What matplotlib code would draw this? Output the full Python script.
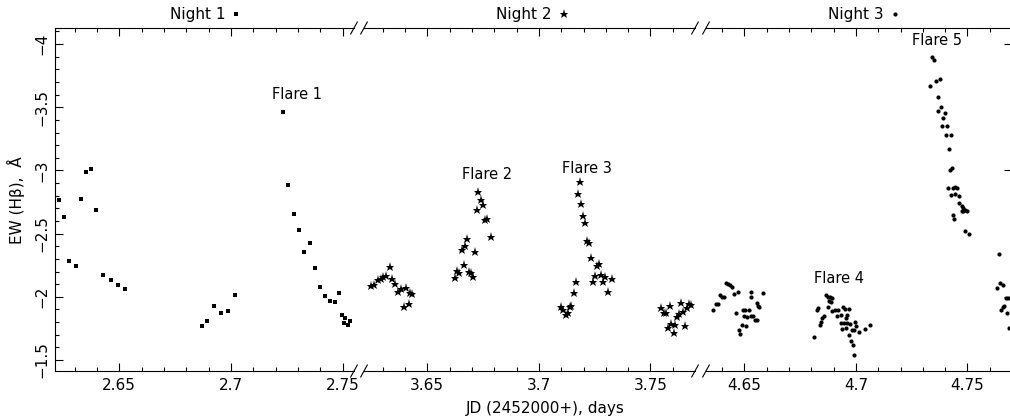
import matplotlib
matplotlib.use("Agg")
import matplotlib.pyplot as plt
from matplotlib.lines import Line2D
from matplotlib.ticker import MultipleLocator, FuncFormatter, NullLocator, NullFormatter

plt.rcParams['font.family'] = ['DejaVu Sans']

# ---------------- data (JD - 2452000, EW(Hbeta) in Angstrom) ----------------
night1_jd = [2.6230, 2.6253, 2.6275, 2.6306, 2.6329, 2.6351, 2.6373, 2.6396, 2.6427, 2.6463, 2.6494, 2.6525,
             2.6870, 2.6895, 2.6924, 2.6955, 2.6986, 2.7017,
             2.7232, 2.7258, 2.7281, 2.7304, 2.7326, 2.7353, 2.7375, 2.7398, 2.7420, 2.7442, 2.7465, 2.7483,
             2.7496, 2.7505, 2.7513, 2.7523, 2.7532]
night1_ew = [-2.768, -2.634, -2.286, -2.246, -2.776, -2.990, -3.013, -2.689, -2.175, -2.135, -2.096, -2.064,
             -1.771, -1.806, -1.930, -1.874, -1.890, -2.017,
             -3.464, -2.887, -2.657, -2.531, -2.357, -2.428, -2.230, -2.080, -2.009, -1.969, -1.961, -2.028,
             -1.858, -1.795, -1.835, -1.779, -1.811]

night2_jd = [3.6248, 3.6263, 3.6278, 3.6291, 3.6303, 3.6315, 3.6332, 3.6343, 3.6357, 3.6370, 3.6384, 3.6397,
             3.6406, 3.6417, 3.6424, 3.6433,
             3.6624, 3.6633, 3.6643, 3.6654, 3.6663, 3.6669, 3.6679, 3.6688, 3.6697, 3.6706, 3.6714, 3.6721,
             3.6728, 3.6739, 3.6750, 3.6757, 3.6766, 3.6784,
             3.7099, 3.7109, 3.7120, 3.7130, 3.7138, 3.7145, 3.7157, 3.7166, 3.7175, 3.7184, 3.7190, 3.7199,
             3.7208, 3.7217, 3.7226, 3.7235, 3.7244, 3.7250, 3.7262, 3.7269, 3.7277, 3.7286, 3.7295, 3.7310, 3.7328,
             3.7547, 3.7560, 3.7568, 3.7577, 3.7587, 3.7593, 3.7604, 3.7611, 3.7620, 3.7628, 3.7638, 3.7647,
             3.7655, 3.7662, 3.7672, 3.7683]
night2_ew = [-2.085, -2.093, -2.133, -2.138, -2.159, -2.167, -2.236, -2.141, -2.101, -2.040, -2.064, -1.917,
             -2.070, -1.941, -2.032, -2.025,
             -2.146, -2.207, -2.186, -2.370, -2.252, -2.404, -2.457, -2.194, -2.186, -2.157, -2.357, -2.689,
             -2.832, -2.768, -2.724, -2.605, -2.616, -2.475,
             -1.922, -1.896, -1.858, -1.874, -1.919, -1.927, -2.030, -2.117, -2.813, -2.906, -2.734, -2.642,
             -2.581, -2.439, -2.423, -2.307, -2.119, -2.165, -2.244, -2.259, -2.172, -2.117, -2.157, -2.040, -2.141,
             -1.909, -1.869, -1.874, -1.756, -1.930, -1.785, -1.714, -1.777, -1.843, -1.864, -1.953, -1.882,
             -1.771, -1.909, -1.941, -1.935]

night3_jd = [4.6358, 4.6373, 4.6384, 4.6393, 4.6402, 4.6411, 4.6420, 4.6427, 4.6436, 4.6443, 4.6454, 4.6463,
             4.6472, 4.6478, 4.6482, 4.6490, 4.6492, 4.6499, 4.6505, 4.6506, 4.6512, 4.6520, 4.6528, 4.6532,
             4.6532, 4.6541, 4.6550, 4.6556, 4.6559, 4.6562, 4.6568, 4.6585,
             4.6814, 4.6824, 4.6831, 4.6838, 4.6844, 4.6849, 4.6855, 4.6865, 4.6873, 4.6875, 4.6879, 4.6885,
             4.6888, 4.6893, 4.6893, 4.6908, 4.6915, 4.6921, 4.6933, 4.6935, 4.6938, 4.6942, 4.6947, 4.6956,
             4.6951, 4.6954, 4.6958, 4.6962, 4.6969, 4.6969, 4.6974, 4.6981, 4.6980, 4.6987, 4.6991, 4.6998,
             4.7000, 4.6992, 4.7015, 4.7041, 4.7065,
             4.7332, 4.7340, 4.7350, 4.7360, 4.7366, 4.7370, 4.7375, 4.7381, 4.7387, 4.7390, 4.7398, 4.7402,
             4.7407, 4.7413, 4.7416, 4.7423, 4.7425, 4.7426, 4.7429, 4.7433, 4.7436, 4.7440, 4.7444, 4.7444,
             4.7452, 4.7461, 4.7464, 4.7474, 4.7475, 4.7481, 4.7482, 4.7491, 4.7498, 4.7489, 4.7507,
             4.7632, 4.7642, 4.7647, 4.7651, 4.7660, 4.7661, 4.7664, 4.7673, 4.7676, 4.7681, 4.7687]
night3_ew = [-1.892, -1.942, -1.943, -2.014, -1.998, -1.998, -2.109, -2.105, -2.092, -2.075, -2.021, -1.874,
             -2.040, -1.740, -1.708, -1.777, -1.893, -1.850, -1.893, -1.773, -1.838, -1.896, -1.852, -2.042,
             -2.001, -1.848, -1.820, -1.949, -1.813, -1.930, -1.918, -2.032,
             -1.684, -1.892, -1.913, -1.780, -1.801, -1.830, -1.852, -2.016, -2.001, -1.919, -1.967, -1.996,
             -1.957, -1.994, -1.885, -1.896, -1.852, -1.896, -1.856, -1.793, -1.748, -1.919, -1.793, -1.751,
             -1.901, -1.830, -1.793, -1.856, -1.900, -1.698, -1.782, -1.737, -1.654, -1.619, -1.737, -1.803,
             -1.773, -1.540, -1.724, -1.743, -1.775,
             -3.668, -3.900, -3.873, -3.705, -3.472, -3.578, -3.721, -3.504, -3.351, -3.415, -3.457, -3.280,
             -3.355, -2.861, -3.171, -3.007, -3.278, -2.804, -3.019, -2.649, -2.863, -2.613, -2.811, -2.871,
             -2.861, -2.801, -2.746, -2.716, -2.676, -2.706, -2.679, -2.683, -2.676, -2.523, -2.497,
             -2.070, -2.341, -2.112, -1.898, -1.922, -2.092, -1.927, -1.994, -1.872, -1.994, -1.757]

night_labels = ["Night 1", "Night 2", "Night 3"]
flare_labels = ["Flare 1", "Flare 2", "Flare 3", "Flare 4", "Flare 5"]
flare_pos = [(0, 2.7296, -3.597), (1, 3.6767, -2.964), (1, 3.7216, -3.019),
             (2, 4.6924, -2.141), (2, 4.7363, -4.032)]
xlims = [(2.62119, 2.75515), (3.62164, 3.76994), (4.63284, 4.76994)]
ylim = (-1.413, -4.127)
xlabel = "JD (2452000+), days"
ylabel = "EW (H\u03b2),  \u00c5"

# ---------------- layout ----------------
W, H = 1010, 418
fig = plt.figure(figsize=(W / 100, H / 100), dpi=100)
top_px, bot_px = 28, 371
panels_px = [(55, 354), (364, 695), (706, 1012)]
markers = [dict(marker='s', ms=3.4), dict(marker='*', ms=6.8), dict(marker='o', ms=3.0)]
series = [(night1_jd, night1_ew), (night2_jd, night2_ew), (night3_jd, night3_ew)]

fs = 11
fmt_x = FuncFormatter(lambda v, p: ('%g' % round(v, 4)))
fmt_y = FuncFormatter(lambda v, p: ('%g' % round(v, 4)).replace('-', '\u2212'))

axes = []
for i, ((l, r), (xs, ys), mk) in enumerate(zip(panels_px, series, markers)):
    ax = fig.add_axes([l / W, (H - bot_px) / H, (r - l) / W, (bot_px - top_px) / H])
    ax.plot(xs, ys, linestyle='none', color='black', mec='black', mew=0, clip_on=True, **mk)
    ax.set_xlim(*xlims[i])
    ax.set_ylim(*ylim)
    ax.xaxis.set_major_locator(MultipleLocator(0.05))
    ax.xaxis.set_minor_locator(MultipleLocator(0.01))
    ax.xaxis.set_major_formatter(fmt_x)
    ax.yaxis.set_major_locator(MultipleLocator(0.5))
    ax.yaxis.set_minor_locator(MultipleLocator(0.1))
    ax.yaxis.set_major_formatter(fmt_y)
    for s in ax.spines.values():
        s.set_linewidth(0.8)
    ax.spines['left'].set_visible(i == 0)
    ax.spines['right'].set_visible(i == 2)
    ax.tick_params(axis='x', which='both', direction='in', top=True, bottom=True,
                   labelsize=fs, pad=5, width=0.8)
    ax.tick_params(axis='x', which='major', length=6)
    ax.tick_params(axis='x', which='minor', length=3)
    ax.tick_params(axis='y', which='both', direction='in', left=(i == 0), right=False,
                   labelleft=(i == 0), labelright=False, labelsize=fs, pad=4, width=0.8,
                   labelrotation=90)
    ax.tick_params(axis='y', which='major', length=6)
    ax.tick_params(axis='y', which='minor', length=3)
    if i == 0:
        for t in ax.get_yticklabels():
            t.set_va('center')
            t.set_ha('right')
    if i == 2:
        sec = ax.secondary_yaxis('right')
        sec.yaxis.set_major_locator(MultipleLocator(1.0))
        sec.yaxis.set_minor_locator(NullLocator())
        sec.yaxis.set_major_formatter(NullFormatter())
        sec.tick_params(direction='in', length=6, width=0.8)
        sec.spines['right'].set_linewidth(0.8)
    axes.append(ax)

for idx, (pi, fx, fy) in enumerate(flare_pos):
    axes[pi].text(fx, fy, flare_labels[idx], ha='center', va='center', fontsize=10.5)

# axis-break marks
def slash(cx, cy):
    fig.add_artist(Line2D([(cx - 3.3) / W, (cx + 3.3) / W],
                          [(H - cy - 6) / H, (H - cy + 6) / H],
                          transform=fig.transFigure, color='black', lw=0.8))

for cx in (354, 364, 695, 706):
    for cy in (top_px, bot_px):
        slash(cx, cy)

# night titles with symbols
night_text_px = [(170, 14), (496, 14), (828, 14)]
night_sym_px = [(236, 14), (564, 14), (895, 14)]
for lab, (tx, ty), (mx, my), mk in zip(night_labels, night_text_px, night_sym_px, markers):
    fig.text(tx / W, 1 - ty / H, lab, ha='left', va='center', fontsize=fs)
    fig.add_artist(Line2D([mx / W], [1 - my / H], transform=fig.transFigure,
                          linestyle='none', color='black', mew=0, **mk))

fig.text(545 / W, 1 - 408 / H, xlabel, ha='center', va='center', fontsize=fs)
fig.text(16 / W, 1 - 200 / H, ylabel, ha='center', va='center', rotation=90, fontsize=fs)

fig.savefig("out.png", dpi=100)
